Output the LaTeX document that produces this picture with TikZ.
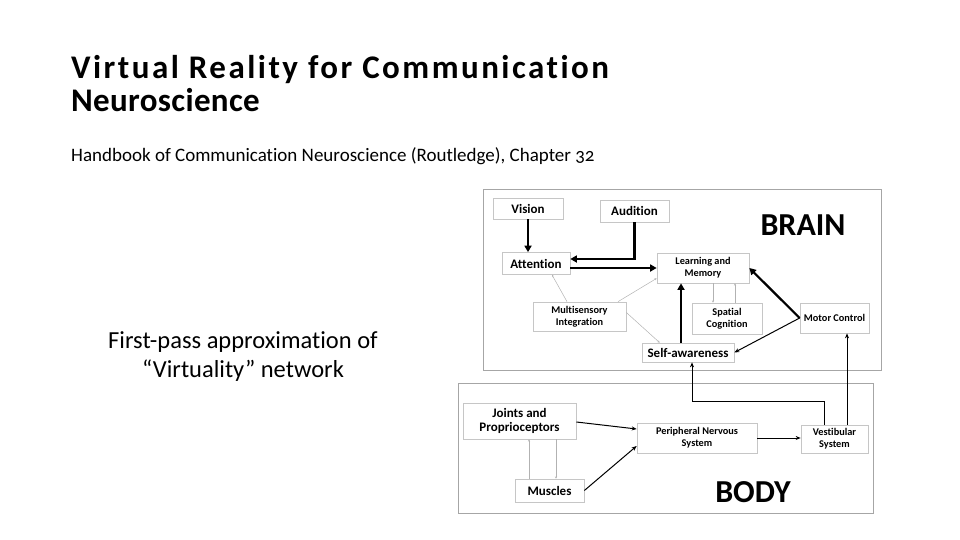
\documentclass[tikz,border=0pt]{standalone}
\usepackage{fontspec}
\setmainfont{Carlito}[Numbers=OldStyle,Ligatures=NoCommon]
\usetikzlibrary{arrows.meta,calc}
\begin{document}
\begin{tikzpicture}[x=1pt,y=-1pt,
  box/.style n args={2}{draw=gray!45,line width=0.7pt,fill=white,inner sep=0pt,
    align=center,minimum width=#1pt,minimum height=#2pt},
  lg/.style={font=\bfseries\fontsize{13}{14}\selectfont},
  sm/.style={font=\bfseries\fontsize{10.3}{12}\selectfont},
  region/.style={draw=gray!70,line width=0.8pt},
  big/.style={line width=2.2pt,-{Triangle[length=6.5pt,width=7pt]}},
  thin/.style={line width=1pt,-{Stealth[length=5pt,width=4pt]}},
  faint/.style={draw=gray!60,line width=0.5pt,-{Stealth[length=2.2pt,width=2.2pt]}},
]
\useasboundingbox (0,0) rectangle (960,540);

% headings
\node[anchor=base west,inner sep=0pt,
  font=\bfseries\fontsize{33}{36}\selectfont\addfontfeatures{LetterSpace=7.5}] (t1) at (71,79) {Virtual Reality for Communication};
\node[anchor=base west,inner sep=0pt,
  font=\bfseries\fontsize{33}{36}\selectfont\addfontfeatures{LetterSpace=1}] (t2) at (71,112) {Neuroscience};
\node[anchor=base west,inner sep=0pt,font=\fontsize{19}{22}\selectfont] (sub) at (71,162)
  {Handbook of Communication Neuroscience (Routledge), Chapter 32};
\node[anchor=base,inner sep=0pt,font=\fontsize{24.5}{28}\selectfont] (c1) at (243,348) {First-pass approximation of};
\node[anchor=base,inner sep=0pt,font=\fontsize{24.5}{28}\selectfont] (c2) at (243,377) {“Virtuality” network};

% the two regions
\draw[region] (483,189) rectangle (881,370);
\draw[region] (458,383) rectangle (873,513);
\node[font=\bfseries\fontsize{32}{34}\selectfont] (brain) at (803,225) {BRAIN};
\node[font=\bfseries\fontsize{32}{34}\selectfont] (body) at (753,492) {BODY};

% brain nodes
\node[box={70}{21},lg] (vision) at (528,208.5) {Vision};
\node[box={69}{22},lg] (audition) at (634.5,211) {Audition};
\node[box={68}{22},lg] (attention) at (536,263.5) {Attention};
\node[box={92}{30},sm] (learn) at (703,268) {Learning and\\Memory};
\node[box={93}{29},sm] (multi) at (579.5,316.5) {Multisensory\\Integration};
\node[box={70}{31},sm] (spatial) at (727,318.5) {Spatial\\Cognition};
\node[box={69}{30},sm] (motor) at (834.5,318) {Motor Control};
\node[box={92}{19},lg] (self) at (688,352.5) {Self-awareness};

% body nodes
\node[box={113}{36},lg] (joints) at (519.5,421) {Joints and\\Proprioceptors};
\node[box={69}{23},lg] (muscles) at (549.5,490.5) {Muscles};
\node[box={120}{30},sm] (pns) at (697,438) {Peripheral Nervous\\System};
\node[box={67}{28},sm] (vest) at (834.5,439) {Vestibular\\System};

% strong pathways
\draw[big] (vision.south) -- (attention.north -| vision.south);
\coordinate (a0) at ($(attention.east)+(0,-4.5)$);
\draw[big] (audition.south) |- (a0);
\coordinate (a1) at ($(attention.east)+(0,4.5)$);
\draw[big] (a1) -- (a1 -| learn.west);
\coordinate (s1) at ($(self.north)+(-7,0)$);
\draw[big] (s1) -- (s1 |- learn.south);
\draw[big] (motor.west) -- (learn.east);

% ordinary pathways
\draw[thin] (motor.west) -- (self.east);
\coordinate (v1) at ($(vest.north)+(-10.5,0)$);
\coordinate (s2) at ($(self.south)+(4,0)$);
\draw[thin] (v1) -- ++(0,-23) -| (s2);
\coordinate (v2) at ($(vest.north)+(12.5,0)$);
\draw[thin] (v2) -- (v2 |- motor.south);
\draw[thin] ($(joints.east)+(0,1)$) -- ($(pns.west)+(0,-9)$);
\draw[thin] (muscles.east) -- ($(pns.west)+(0,8)$);
\draw[thin] (pns.east) -- (pns.east -| vest.west);

% weak links
\draw[faint] ($(multi.north)+(-12.5,0)$) -- ($(attention.south)+(16,0)$);
\draw[faint] ($(multi.north)+(38.5,0)$) -- ($(learn.south west)+(0,-5)$);
\draw[faint] ($(multi.east)+(0,-4)$) -- ($(self.north west)+(18,0)$);
\coordinate (sp1) at ($(spatial.north)+(-14,0)$);
\coordinate (sp2) at ($(spatial.north)+(8,0)$);
\draw[faint] (sp1 |- learn.south) -- (sp1);
\draw[faint] (sp2) -- (sp2 |- learn.south);
\coordinate (j1) at (529,0);
\coordinate (j2) at (556,0);
\draw[faint] (muscles.north -| j1) -- (joints.south -| j1);
\draw[faint] (joints.south -| j2) -- (muscles.north -| j2);
\end{tikzpicture}
\end{document}
